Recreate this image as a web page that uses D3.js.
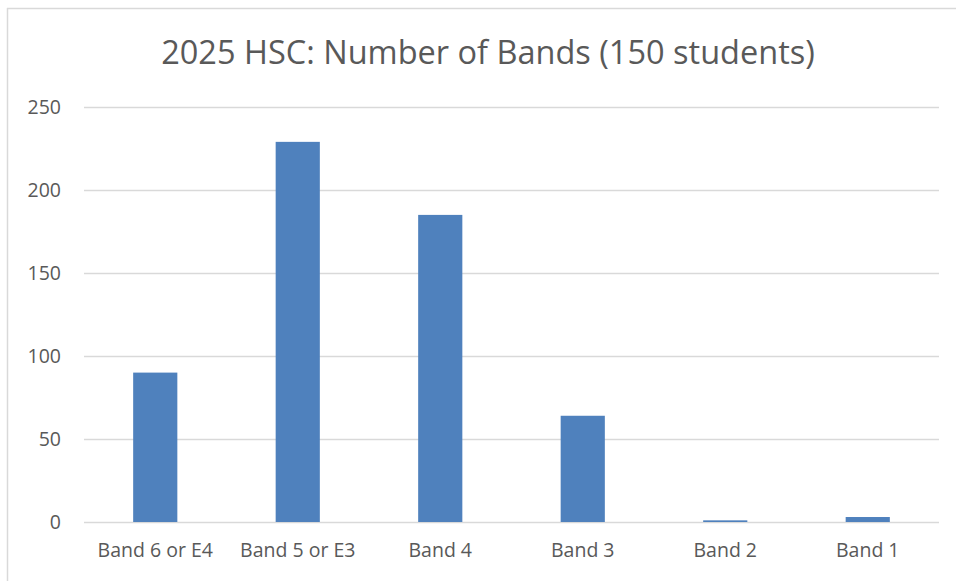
<!DOCTYPE html>
<html>
<head>
<meta charset="utf-8">
<script src="https://cdn.jsdelivr.net/npm/d3@7"></script>
<style>
  html, body { margin: 0; padding: 0; background: #fff; }
  svg { display: block; font-family: "Open Sans", sans-serif; }
</style>
</head>
<body>
<div id="chart"></div>
<script>
const categories = ["Band 6 or E4", "Band 5 or E3", "Band 4", "Band 3", "Band 2", "Band 1"];
const counts = [90, 229, 185, 64, 1, 3];
const yTicks = [0, 50, 100, 150, 200, 250];
const chartTitle = "2025 HSC: Number of Bands (150 students)";

const W = 956, H = 581;
const margin = { top: 107, right: 17, bottom: 59, left: 84 },
    width = W - margin.left - margin.right,
    height = H - margin.top - margin.bottom;

const svg = d3.select("#chart")
    .append("svg")
    .attr("width", W)
    .attr("height", H);

// chart frame (only top and left edges visible)
svg.append("line")
    .attr("x1", 7).attr("x2", W).attr("y1", 8.5).attr("y2", 8.5)
    .attr("stroke", "#d9d9d9").attr("stroke-width", 1.5);
svg.append("line")
    .attr("x1", 7.5).attr("x2", 7.5).attr("y1", 8).attr("y2", H)
    .attr("stroke", "#d9d9d9").attr("stroke-width", 1.5);

const chartArea = svg.append("g")
    .attr("transform", `translate(${margin.left}, ${margin.top})`);

const x = d3.scaleBand()
    .domain(categories)
    .range([0, width])
    .paddingInner(0.69)
    .paddingOuter(0.345);

const y = d3.scaleLinear()
    .domain([0, 250])
    .range([height, 0]);

// gridlines
chartArea.append("g")
    .selectAll("line")
    .data(yTicks)
    .join("line")
    .attr("x1", 0)
    .attr("x2", width)
    .attr("y1", d => Math.round(y(d)) + 0.5)
    .attr("y2", d => Math.round(y(d)) + 0.5)
    .attr("stroke", "#d9d9d9")
    .attr("stroke-width", 1.5);

// y axis labels
const yAxis = chartArea.append("g")
    .call(d3.axisLeft(y).tickValues(yTicks).tickSize(0).tickPadding(23))
    .attr("font-family", null);
yAxis.select(".domain").remove();
yAxis.selectAll("text")
    .attr("fill", "#595959")
    .style("font-family", "'Open Sans', sans-serif")
    .style("font-size", "19.5px")
    .attr("dy", "0.35em");

// x axis labels
const xAxis = chartArea.append("g")
    .attr("transform", `translate(0, ${height})`)
    .call(d3.axisBottom(x).tickSize(0).tickPadding(21))
    .attr("font-family", null);
xAxis.select(".domain").remove();
xAxis.selectAll("text")
    .attr("fill", "#595959")
    .style("font-family", "'Open Sans', sans-serif")
    .style("font-size", "19.5px");

// bars
chartArea.selectAll(".bar")
    .data(categories.map((c, i) => ({ cat: c, val: counts[i] })))
    .join("rect")
    .attr("class", "bar")
    .attr("x", d => x(d.cat))
    .attr("y", d => y(d.val))
    .attr("width", x.bandwidth())
    .attr("height", d => height - y(d.val))
    .attr("fill", "#4f81bd");

// title
const title = svg.append("text")
    .attr("x", 488)
    .attr("y", 64)
    .attr("text-anchor", "middle")
    .attr("fill", "#595959")
    .style("font-size", "30px")
    .text(chartTitle);
const tw = title.node().getComputedTextLength();
title.style("font-size", (30 * 653 / tw).toFixed(1) + "px");
</script>
</body>
</html>
